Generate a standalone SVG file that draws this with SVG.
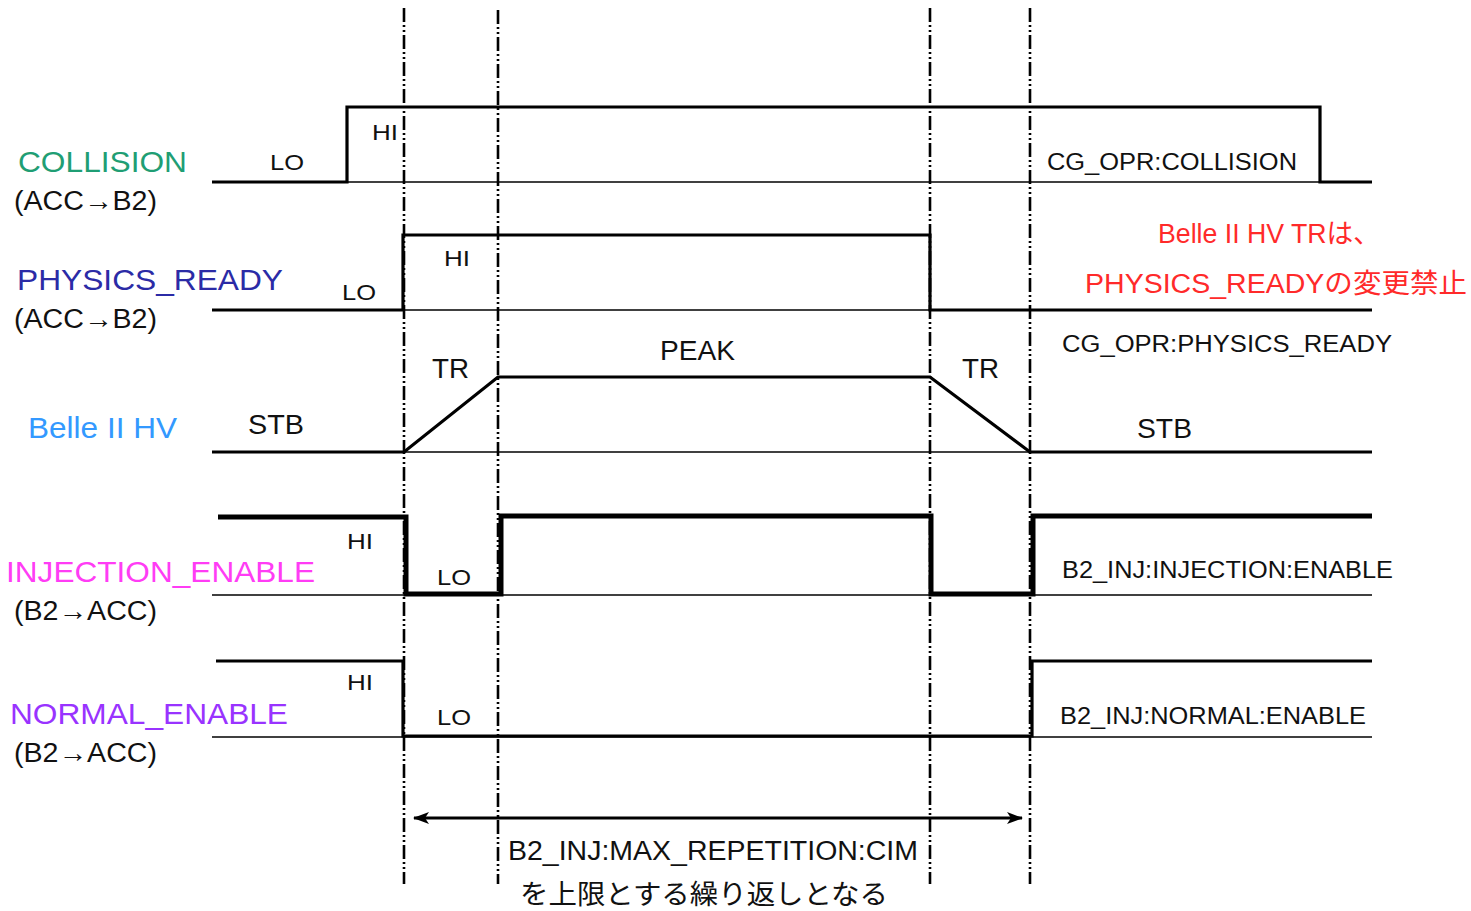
<svg xmlns="http://www.w3.org/2000/svg" width="1471" height="911" viewBox="0 0 1471 911">
<style>
text{font-family:"Liberation Sans","Noto Sans CJK JP",sans-serif;fill:#111}
.lbl{font-size:30px}
.sub{font-size:27px}
.st{font-size:22px}
.big{font-size:27px}
.tag{font-size:23px}
.base{stroke:#000;stroke-width:1.4;fill:none}
.sig{stroke:#000;stroke-width:3.2;fill:none;stroke-linejoin:miter}
.sigb{stroke:#000;stroke-width:5;fill:none;stroke-linejoin:miter}
.dd{stroke:#000;stroke-width:2.6;stroke-dasharray:14 3 2 3 2 3}
</style>
<defs>
<marker id="ah" viewBox="0 0 16 12" refX="15" refY="6" markerWidth="16" markerHeight="12" markerUnits="userSpaceOnUse" orient="auto-start-reverse">
<path d="M0,0 L16,6 L0,12 L4,6 Z" fill="#000"/>
</marker>
</defs>
<rect width="1471" height="911" fill="#fff"/>
<g id="gridlines">
<line class="base" x1="212" y1="182" x2="1372" y2="182"/>
<line class="base" x1="212" y1="310" x2="1372" y2="310"/>
<line class="base" x1="212" y1="452" x2="1372" y2="452"/>
<line class="base" x1="212" y1="595" x2="1372" y2="595"/>
<line class="base" x1="212" y1="737" x2="1372" y2="737"/>
</g>
<g id="markers">
<line class="dd" x1="404" y1="8" x2="404" y2="884"/>
<line class="dd" x1="498" y1="10" x2="498" y2="884"/>
<line class="dd" x1="930" y1="8" x2="930" y2="884"/>
<line class="dd" x1="1030" y1="8" x2="1030" y2="884"/>
</g>
<g id="collision">
<path class="sig" d="M212,182 H347 V107 H1320 V182 H1372"/>
<text class="lbl" x="18" y="172" style="fill:#1f9e74" textLength="169" lengthAdjust="spacingAndGlyphs">COLLISION</text>
<text class="sub" x="14" y="210" textLength="143" lengthAdjust="spacingAndGlyphs">(ACC→B2)</text>
<text class="st" x="270" y="170" textLength="34" lengthAdjust="spacingAndGlyphs">LO</text>
<text class="st" x="372" y="140" textLength="26" lengthAdjust="spacingAndGlyphs">HI</text>
<text class="tag" x="1047" y="170" textLength="250" lengthAdjust="spacingAndGlyphs">CG_OPR:COLLISION</text>
</g>
<g id="physics_ready">
<path class="sig" d="M212,310 H403 V235 H930 V310 H1372"/>
<text class="lbl" x="17" y="290" style="fill:#2b2ba6" textLength="266" lengthAdjust="spacingAndGlyphs">PHYSICS_READY</text>
<text class="sub" x="14" y="328" textLength="143" lengthAdjust="spacingAndGlyphs">(ACC→B2)</text>
<text class="st" x="342" y="300" textLength="34" lengthAdjust="spacingAndGlyphs">LO</text>
<text class="st" x="444" y="266" textLength="26" lengthAdjust="spacingAndGlyphs">HI</text>
<text class="big" x="1158" y="243" style="fill:#ff2a2a" textLength="222" lengthAdjust="spacingAndGlyphs">Belle II HV TRは、</text>
<text class="big" x="1085" y="293" style="fill:#ff2a2a" textLength="382" lengthAdjust="spacingAndGlyphs">PHYSICS_READYの変更禁止</text>
<text class="tag" x="1062" y="352" textLength="330" lengthAdjust="spacingAndGlyphs">CG_OPR:PHYSICS_READY</text>
</g>
<g id="belle_hv">
<path class="sig" d="M212,452 H404 L498,377 H930 L1030,452 H1372"/>
<text class="lbl" x="28" y="438" style="fill:#3399ff" textLength="149" lengthAdjust="spacingAndGlyphs">Belle II HV</text>
<text class="big" x="248" y="434" textLength="56" lengthAdjust="spacingAndGlyphs">STB</text>
<text class="big" x="432" y="378" textLength="37" lengthAdjust="spacingAndGlyphs">TR</text>
<text class="big" x="660" y="360" textLength="75" lengthAdjust="spacingAndGlyphs">PEAK</text>
<text class="big" x="962" y="378" textLength="37" lengthAdjust="spacingAndGlyphs">TR</text>
<text class="big" x="1137" y="438" textLength="55" lengthAdjust="spacingAndGlyphs">STB</text>
</g>
<g id="injection_enable">
<path class="sigb" d="M218,517 H406 V594 H501 V516 H931 V594 H1033 V516 H1372"/>
<text class="lbl" x="6" y="582" style="fill:#ff3cf5" textLength="309" lengthAdjust="spacingAndGlyphs">INJECTION_ENABLE</text>
<text class="sub" x="14" y="620" textLength="143" lengthAdjust="spacingAndGlyphs">(B2→ACC)</text>
<text class="st" x="347" y="549" textLength="26" lengthAdjust="spacingAndGlyphs">HI</text>
<text class="st" x="437" y="585" textLength="34" lengthAdjust="spacingAndGlyphs">LO</text>
<text class="tag" x="1062" y="578" textLength="331" lengthAdjust="spacingAndGlyphs">B2_INJ:INJECTION:ENABLE</text>
</g>
<g id="normal_enable">
<path class="sig" d="M216,661 H403 V736 H1032 V661 H1372"/>
<text class="lbl" x="10" y="724" style="fill:#9933ff" textLength="278" lengthAdjust="spacingAndGlyphs">NORMAL_ENABLE</text>
<text class="sub" x="14" y="762" textLength="143" lengthAdjust="spacingAndGlyphs">(B2→ACC)</text>
<text class="st" x="347" y="690" textLength="26" lengthAdjust="spacingAndGlyphs">HI</text>
<text class="st" x="437" y="725" textLength="34" lengthAdjust="spacingAndGlyphs">LO</text>
<text class="tag" x="1060" y="724" textLength="306" lengthAdjust="spacingAndGlyphs">B2_INJ:NORMAL:ENABLE</text>
</g>
<g id="connectors">
<line x1="414" y1="818" x2="1022" y2="818" stroke="#000" stroke-width="3" marker-start="url(#ah)" marker-end="url(#ah)"/>
</g>
<g id="repetition">
<text class="big" x="508" y="860" textLength="410" lengthAdjust="spacingAndGlyphs">B2_INJ:MAX_REPETITION:CIM</text>
<text class="big" x="520" y="904" textLength="368" lengthAdjust="spacingAndGlyphs">を上限とする繰り返しとなる</text>
</g>
</svg>
